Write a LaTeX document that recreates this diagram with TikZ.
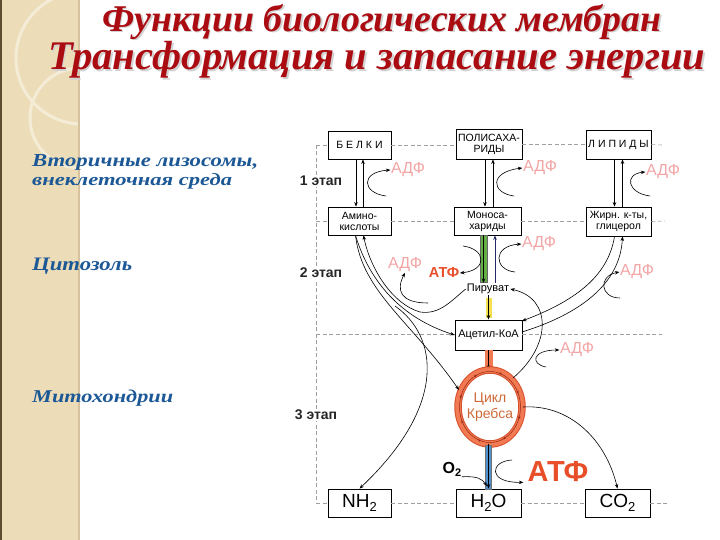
\documentclass[tikz,border=0pt]{standalone}
\usepackage{fontspec}
\setmainfont{Liberation Serif}
\newfontfamily\dsans{Liberation Sans}
\usetikzlibrary{arrows.meta,shapes.geometric,decorations.markings}
\definecolor{titlered}{RGB}{170,12,18}
\definecolor{labelblue}{RGB}{28,88,150}
\definecolor{adfpink}{RGB}{242,165,165}
\definecolor{atfred}{RGB}{232,78,40}
\definecolor{ringorange}{RGB}{242,122,82}
\definecolor{ringedge}{RGB}{215,80,45}
\definecolor{ringdark}{RGB}{150,40,20}
\definecolor{krebstext}{RGB}{205,105,55}
\definecolor{greenbar}{RGB}{100,175,70}
\definecolor{yellowbar}{RGB}{245,225,80}
\definecolor{bluebar}{RGB}{80,145,205}
\definecolor{navyline}{RGB}{40,40,100}
\definecolor{beige}{RGB}{236,221,184}
\definecolor{beigeedge}{RGB}{214,194,158}
\definecolor{brownedge}{RGB}{95,75,45}
\definecolor{beigelight}{RGB}{244,236,214}
\begin{document}
\begin{tikzpicture}[x=1pt,y=-1pt,
  box/.style={draw, line width=0.8pt, inner sep=0pt, fill=white, align=center,
    font=\dsans\fontsize{10.5}{11}\selectfont},
  bigbox/.style={box, font=\dsans\fontsize{19}{19}\selectfont},
  arr/.style={-{Stealth[length=4.5pt,width=3.5pt]}, line width=0.6pt},
  dline/.style={gray!75, dash pattern=on 4pt off 2.5pt, line width=0.6pt},
  adf/.style={font=\dsans\fontsize{16}{16}\selectfont, text=adfpink, inner sep=0.5pt},
  stagelbl/.style={font=\dsans\bfseries\fontsize{14}{14}\selectfont, fill=white, inner sep=1pt, text=black!85},
  sidelbl/.style={anchor=west, text=labelblue, inner sep=0pt, font=\bfseries\itshape},
  titlelbl/.style={text=titlered, inner sep=0pt, font=\bfseries\itshape},
  plain/.style={font=\dsans\fontsize{11}{11}\selectfont, inner sep=1pt}
]
\useasboundingbox (0,0) rectangle (720,540);
% left decorative stripe
\fill[beige] (0,0) rectangle (79,540);
\begin{scope}
  \clip (0,0) rectangle (79,540);
  \draw[beigelight, line width=3pt] (82,58) circle (66);
  \draw[beigelight, line width=3pt] (80,118) circle (50);
\end{scope}
\draw[beigeedge, line width=1.2pt] (79,0) -- (79,540);
\fill[brownedge] (0,0) rectangle (2,540);

% titles
\node[titlelbl, text=gray!35] at (383.5,23.5) {\resizebox{559pt}{!}{Функции биологических мембран}};
\node[titlelbl] (t1) at (382,22) {\resizebox{559pt}{!}{Функции биологических мембран}};
\node[titlelbl, text=gray!35] at (378.5,61.5) {\resizebox{657pt}{!}{Трансформация и запасание энергии}};
\node[titlelbl] (t2) at (377,60) {\resizebox{657pt}{!}{Трансформация и запасание энергии}};

% side labels
\node[sidelbl] (s1a) at (32,162) {\resizebox{226pt}{12pt}{Вторичные лизосомы,}};
\node[sidelbl] (s1b) at (32,181) {\resizebox{200pt}{12pt}{внеклеточная среда}};
\node[sidelbl] (s2) at (32,266) {\resizebox{100pt}{12.5pt}{Цитозоль}};
\node[sidelbl] (s3) at (32,398) {\resizebox{141pt}{12.5pt}{Митохондрии}};

% dashed grid coordinates
\coordinate (dTL) at (316,145);
\coordinate (dTR) at (662,145);
\coordinate (dML) at (316,221);
\coordinate (dMR) at (665,221);
\coordinate (dAL) at (316,334);
\coordinate (dAR) at (662,334);
\coordinate (dBL) at (316,503);
\coordinate (dBR) at (668,503);

% boxes
\node[box, minimum width=63pt, minimum height=28pt] (belki) at (359.5,145) {Б Е Л К И};
\node[box, minimum width=66pt, minimum height=30pt] (polis) at (489,144) {ПОЛИСАХА-\\РИДЫ};
\node[box, minimum width=65pt, minimum height=29pt] (lipid) at (618.5,144.5) {Л И П И Д Ы};
\node[box, minimum width=63pt, minimum height=28pt] (amino) at (359.5,221) {Амино-\\кислоты};
\node[box, minimum width=67pt, minimum height=28pt] (mono) at (487.5,221) {Моноса-\\хариды};
\node[box, minimum width=65pt, minimum height=29pt] (zhirn) at (618.5,221.5) {Жирн. к-ты,\\глицерол};
\node[box, minimum width=67pt, minimum height=30pt, font=\dsans\fontsize{11}{11}\selectfont] (acetyl) at (488.5,335) {Ацетил-КоА};
\node[bigbox, minimum width=63pt, minimum height=28pt] (nh2) at (359.5,503) {NH\raisebox{-4pt}{\fontsize{13}{13}\selectfont 2}};
\node[bigbox, minimum width=65pt, minimum height=28pt] (h2o) at (488.5,503) {H\raisebox{-4pt}{\fontsize{13}{13}\selectfont 2}O};
\node[bigbox, minimum width=65pt, minimum height=28pt] (co2) at (617.5,503) {CO\raisebox{-4pt}{\fontsize{13}{13}\selectfont 2}};

% dashed lines
\begin{scope}[on background layer/.style={}]
\draw[dline] (dTL) -- (dBL);
\draw[dline] (dTL) -- (belki.west);
\draw[dline] (belki.east) -- (belki.east -| polis.west);
\draw[dline] (polis.east |- lipid.west) -- (lipid.west);
\draw[dline] (lipid.east) -- (dTR);
\draw[dline] (dML) -- (amino.west);
\draw[dline] (amino.east) -- (amino.east -| mono.west);
\draw[dline] (mono.east) -- (mono.east -| zhirn.west);
\draw[dline] (zhirn.east) -- (dMR);
\draw[dline] (dAL) -- (dAL -| acetyl.west);
\draw[dline] (dAR -| acetyl.east) -- (dAR);
\draw[dline] (dBL) -- (nh2.west);
\draw[dline] (nh2.east) -- (nh2.east -| h2o.west);
\draw[dline] (h2o.east) -- (h2o.east -| co2.west);
\draw[dline] (co2.east) -- (dBR);
\end{scope}

% stage labels
\node[stagelbl] (st1) at (321,181) {1 этап};
\node[stagelbl] (st2) at (321,273) {2 этап};
\node[stagelbl] (st3) at (316,415) {3 этап};

% text labels
\node[adf] (adf1) at (408,170) {АДФ};
\node[adf] (adf2) at (540,168) {АДФ};
\node[adf] (adf3) at (663,172) {АДФ};
\node[adf] (adf4) at (539,244) {АДФ};
\node[adf] (adf5) at (405,265) {АДФ};
\node[adf] (adf6) at (637,272) {АДФ};
\node[adf] (adf7) at (577,350) {АДФ};
\node[font=\dsans\bfseries\fontsize{14.5}{15}\selectfont, text=atfred, inner sep=0.5pt] (atf1) at (444,273) {АТФ};
\node[font=\dsans\bfseries\fontsize{29}{29}\selectfont, text=atfred, inner sep=0pt] (atf2) at (558,472) {АТФ};
\node[plain] (pyr) at (488,289) {Пируват};
\node[font=\dsans\bfseries\fontsize{16}{16}\selectfont, inner sep=0.5pt] (o2) at (452,469) {O\raisebox{-3pt}{\fontsize{11}{11}\selectfont 2}};

% stage 1 arrows
\draw[arr] ([xshift=-3.5pt]belki.south) -- ([xshift=-3.5pt]belki.south |- amino.north);
\draw[arr, line width=0.8pt] ([xshift=3.5pt]amino.north) -- ([xshift=3.5pt]amino.north |- belki.south);
\draw[arr] ([xshift=-4pt]polis.south) -- ([xshift=-4pt]polis.south |- mono.north);
\draw[arr, line width=0.8pt] ([xshift=4pt]polis.south |- mono.north) -- ([xshift=4pt]polis.south);
\draw[arr] ([xshift=-4pt]lipid.south) -- ([xshift=-4pt]lipid.south |- zhirn.north);
\draw[arr, line width=0.8pt] ([xshift=4pt]lipid.south |- zhirn.north) -- ([xshift=4pt]lipid.south);
\coordinate (c1) at (386,196);
\coordinate (c2) at (514,196);
\coordinate (c3) at (650,196);
\draw[arr] (c1) .. controls (362,193) and (360,172) .. (adf1.west);
\draw[arr] (c2) .. controls (491,193) and (489,172) .. (adf2.west);
\draw[arr] (c3) .. controls (627,193) and (624,174) .. (adf3.west);

% stage 2: monosaccharides -> pyruvate
\filldraw[fill=greenbar, draw=black!60, line width=0.4pt] (480,235) rectangle (487,282);
\draw[arr] ([xshift=-4pt]mono.south) -- ([xshift=-4pt]mono.south |- pyr.north);
\draw[arr, navyline, line width=0.8pt] ([xshift=7.5pt]mono.south |- pyr.north) -- ([xshift=7.5pt]mono.south);
\coordinate (g1) at (463,246);
\coordinate (g2) at (515,272);
\draw[arr] (g1) .. controls (486,249) and (488,270) .. (atf1.east);
\draw[arr] (g2) .. controls (494,270) and (492,246) .. (adf4.west);

% pyruvate -> acetyl-CoA
\fill[yellowbar] (486,298) rectangle (492,318);
\draw[arr] (pyr.south -| acetyl.north) -- (acetyl.north);

% Krebs cycle
\node[ellipse, minimum width=64pt, minimum height=74pt, inner sep=0pt, align=center,
  text=krebstext, font=\dsans\fontsize{14}{16}\selectfont] (krebs) at (490,407) {Цикл\\Кребса};
\fill[ringorange] (485,350) rectangle (493,371);
\draw[arr] (acetyl.south) -- (acetyl.south |- krebs.north);
\draw[ringedge, line width=7.5pt] (krebs.center) ellipse [x radius=32, y radius=37];
\draw[ringorange, line width=5.5pt] (krebs.center) ellipse [x radius=32, y radius=37];
\draw[ringdark, line width=0.5pt, postaction={decorate},
  decoration={markings, mark=between positions 0.06 and 1 step 0.125 with {\arrow{Stealth[length=3pt,width=2.5pt]}}}]
  (krebs.center) ellipse [x radius=30.5, y radius=35.5];

% Krebs -> H2O
\filldraw[fill=bluebar, draw=black!55, line width=0.4pt] (485,445) rectangle (491,489);
\draw[arr] (h2o.north |- krebs.south) -- (h2o.north);
\coordinate (o2end) at (487,486);
\draw[arr] (o2.south east) .. controls (478,476) and (482,479) .. (o2end);
\coordinate (h2s) at (512,460);
\draw[arr] (h2s) .. controls (490,461) and (487,483) .. ([xshift=-4pt]atf2.south west);

% Krebs -> CO2
\draw[arr] (krebs.east) .. controls (570,404) and (606,440) .. (co2.north);

% Krebs -> pyruvate
\coordinate (kTR) at (513,378);
\draw[arr] (kTR) .. controls (552,345) and (552,298) .. (pyr.east);

% acetyl ADF
\coordinate (a7s) at (546,367);
\draw[arr] (a7s) .. controls (530,364) and (532,350) .. (adf7.west);

% amino acid band
\coordinate (krebsL) at (459,390);
\draw[arr] ([xshift=-4pt]amino.south) .. controls (362,292) and (412,322) .. (krebsL);
\draw[arr] ([xshift=-4pt]amino.south) .. controls (370,283) and (402,318) .. (acetyl.west);
\coordinate (pj) at (420,312);
\draw[arr] (pyr.west) .. controls (452,300) and (440,315) .. (pj) .. controls (392,304) and (370,268) .. ([xshift=4pt]amino.south);
\coordinate (nhs) at (395,306);
\draw[arr] (nhs) .. controls (438,336) and (448,405) .. (nh2.north);
\coordinate (a5s) at (428,303);
\draw[arr] (a5s) .. controls (400,303) and (396,290) .. (adf5.south);

% lipid band
\coordinate (acE1) at (522,321);
\coordinate (acE2) at (522,332);
\draw[arr] ([xshift=-4pt]zhirn.south) .. controls (608,278) and (572,302) .. (acE1);
\draw[arr] (acE2) .. controls (580,314) and (620,284) .. ([xshift=4pt]zhirn.south);
\coordinate (r2s) at (620,298);
\draw[arr] (r2s) .. controls (600,298) and (598,276) .. (adf6.west);
\end{tikzpicture}
\end{document}
